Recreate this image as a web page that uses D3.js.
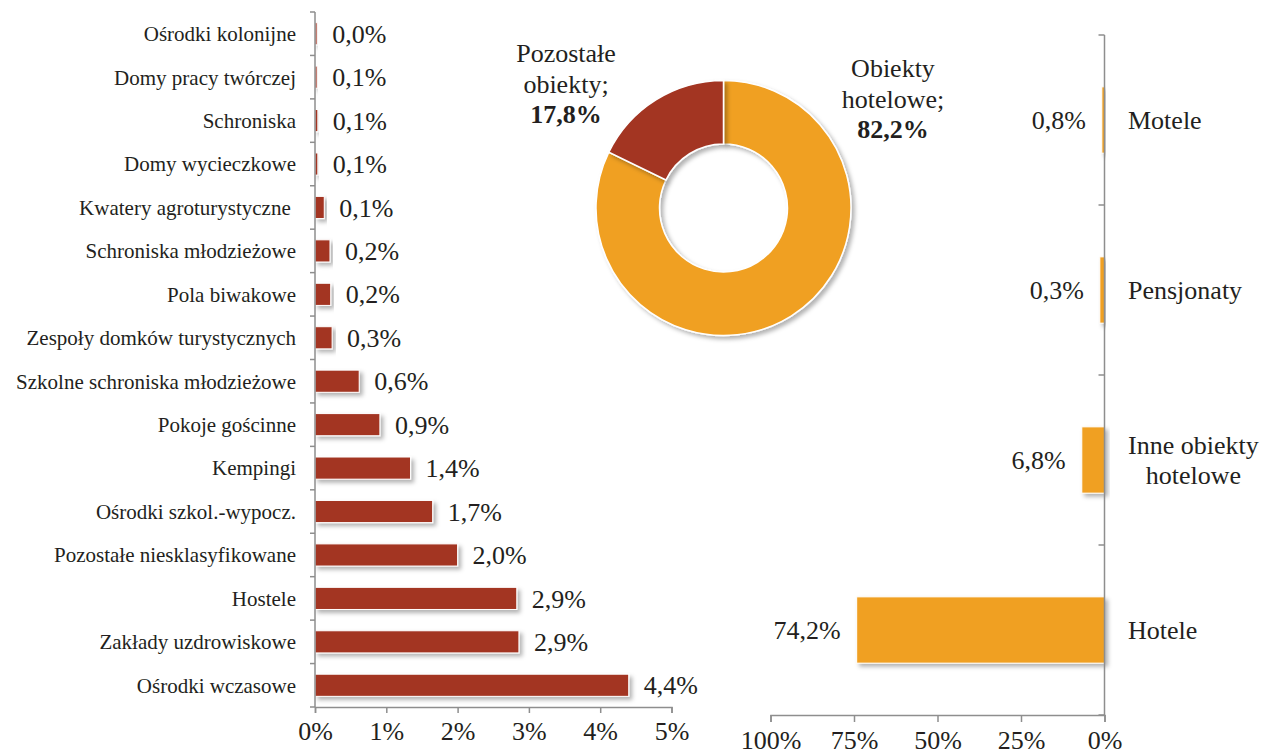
<!DOCTYPE html>
<html>
<head>
<meta charset="utf-8">
<script src="https://cdn.jsdelivr.net/npm/d3@7"></script>
<style>
  body { margin: 0; background: #fff; }
  svg { display: block; }
</style>
</head>
<body>
<div id="chart"></div>
<script>
// Left chart: other accommodation types (share of all objects, %)
var otherCategories = ['Ośrodki kolonijne', 'Domy pracy twórczej', 'Schroniska', 'Domy wycieczkowe',
    'Kwatery agroturystyczne ', 'Schroniska młodzieżowe', 'Pola biwakowe', 'Zespoły domków turystycznych',
    'Szkolne schroniska młodzieżowe', 'Pokoje gościnne', 'Kempingi', 'Ośrodki szkol.-wypocz.',
    'Pozostałe niesklasyfikowane', 'Hostele', 'Zakłady uzdrowiskowe', 'Ośrodki wczasowe'];
var otherValues = [0.03, 0.03, 0.04, 0.04, 0.13, 0.21, 0.22, 0.24, 0.62, 0.91, 1.34, 1.65, 2.0, 2.83, 2.86, 4.4];
var otherLabels = ['0,0%', '0,1%', '0,1%', '0,1%', '0,1%', '0,2%', '0,2%', '0,3%', '0,6%', '0,9%',
    '1,4%', '1,7%', '2,0%', '2,9%', '2,9%', '4,4%'];
var otherTicks = [0, 1, 2, 3, 4, 5];

// Donut: hotel vs other objects
var donutNames = [['Obiekty', 'hotelowe;'], ['Pozostałe', 'obiekty;']];
var donutValues = [82.2, 17.8];
var donutLabels = ['82,2%', '17,8%'];

// Right chart: hotel-type objects
var hotelCategories = ['Motele', 'Pensjonaty', 'Inne obiekty\nhotelowe', 'Hotele'];
var hotelValues = [0.8, 1.4, 6.8, 74.2];
var hotelLabels = ['0,8%', '0,3%', '6,8%', '74,2%'];
var hotelTicks = [100, 75, 50, 25, 0];

var W = 1263, H = 756;
var red = '#a33624', orange = '#f0a023', axisColor = '#8e8e8e', ink = '#231f20';
var FONT = 'Liberation Serif';

var svg = d3.select('#chart').append('svg')
    .attr('width', W).attr('height', H);

var defs = svg.append('defs');
var shadow = defs.append('filter').attr('id', 'shadow')
    .attr('x', '-20%').attr('y', '-30%').attr('width', '140%').attr('height', '180%');
shadow.append('feDropShadow')
    .attr('dx', 3).attr('dy', 3).attr('stdDeviation', 2)
    .attr('flood-color', '#000').attr('flood-opacity', 0.3);

// ---------- Left bar chart ----------
var xL = d3.scaleLinear().domain([0, 5]).range([315, 671.5]);
var yL = d3.scaleBand().domain(otherCategories).range([12, 707])
    .paddingInner(0.49).paddingOuter(0.245);

var left = svg.append('g');

left.selectAll('rect.other')
    .data(otherValues)
    .enter().append('rect')
    .attr('class', 'other')
    .attr('x', xL(0))
    .attr('y', function(d, i) { return yL(otherCategories[i]); })
    .attr('width', function(d) { return xL(d) - xL(0); })
    .attr('height', yL.bandwidth())
    .attr('fill', red)
    .attr('stroke', '#fff')
    .attr('stroke-width', 1)
    .attr('filter', 'url(#shadow)');

left.selectAll('text.val')
    .data(otherLabels)
    .enter().append('text')
    .attr('class', 'val')
    .attr('x', function(d, i) { return xL(otherValues[i]) + 15; })
    .attr('y', function(d, i) { return yL(otherCategories[i]) + yL.bandwidth() / 2; })
    .attr('dy', '0.35em')
    .style('font-size', '26px')
    .text(function(d) { return d; });

// category labels
left.selectAll('text.cat')
    .data(otherCategories)
    .enter().append('text')
    .attr('class', 'cat')
    .attr('x', 296)
    .attr('y', function(d) { return yL(d) + yL.bandwidth() / 2; })
    .attr('dy', '0.35em')
    .attr('text-anchor', 'end')
    .style('font-size', '21px')
    .style('white-space', 'pre')
    .text(function(d) { return d; });

// vertical axis line + boundary ticks
var leftBounds = otherCategories.map(function(d) { return yL(d) - yL.step() * yL.paddingInner() / 2; });
leftBounds.push(yL.range()[1]);
left.append('line')
    .attr('x1', xL(0)).attr('x2', xL(0))
    .attr('y1', leftBounds[0]).attr('y2', yL.range()[1])
    .attr('stroke', axisColor).attr('stroke-width', 1.5);
left.selectAll('line.btick')
    .data(leftBounds)
    .enter().append('line')
    .attr('class', 'btick')
    .attr('x1', xL(0) - 5).attr('x2', xL(0))
    .attr('y1', function(d) { return d; }).attr('y2', function(d) { return d; })
    .attr('stroke', axisColor).attr('stroke-width', 1.5);

// bottom axis
var xAxisL = left.append('g')
    .attr('transform', 'translate(0,' + yL.range()[1] + ')')
    .call(d3.axisBottom(xL).tickValues(otherTicks).tickSize(6).tickPadding(9)
        .tickFormat(function(d) { return d + '%'; }));
xAxisL.attr('font-family', null);
xAxisL.select('.domain').attr('stroke', axisColor).attr('stroke-width', 1.5);
xAxisL.selectAll('.tick line').attr('stroke', axisColor).attr('stroke-width', 1.5);
xAxisL.selectAll('.tick text')
    .style('font-size', '26px');

// ---------- Donut ----------
var cx = 723.5, cy = 208, rOuter = 127.5, rInner = 64;
var pie = d3.pie().sort(null)(donutValues);
var arc = d3.arc().innerRadius(rInner).outerRadius(rOuter);
var donut = svg.append('g').attr('transform', 'translate(' + cx + ',' + cy + ')');
donut.selectAll('path')
    .data(pie)
    .enter().append('path')
    .attr('d', arc)
    .attr('fill', function(d, i) { return i === 0 ? orange : red; })
    .attr('stroke', '#fff')
    .attr('stroke-width', 1.5)
    .attr('filter', 'url(#shadow)');

var donutPos = [{ x: 893, y: 77 }, { x: 566, y: 62 }];
donutNames.forEach(function(lines, i) {
    var t = svg.append('text')
        .attr('x', donutPos[i].x).attr('y', donutPos[i].y)
        .attr('text-anchor', 'middle')
        .style('font-size', '26px');
    lines.forEach(function(line, j) {
        t.append('tspan').attr('x', donutPos[i].x).attr('dy', j === 0 ? 0 : 30.5).text(line);
    });
    t.append('tspan').attr('x', donutPos[i].x).attr('dy', 30.5)
        .style('font-weight', 'bold').text(donutLabels[i]);
});

// ---------- Right bar chart ----------
var xR = d3.scaleLinear().domain([0, 100]).range([1104.5, 770.5]);
var yR = d3.scaleBand().domain(hotelCategories).range([35, 715])
    .paddingInner(0.61).paddingOuter(0.305);

var right = svg.append('g');

right.selectAll('rect.hotel')
    .data(hotelValues)
    .enter().append('rect')
    .attr('class', 'hotel')
    .attr('x', function(d) { return xR(d); })
    .attr('y', function(d, i) { return yR(hotelCategories[i]); })
    .attr('width', function(d) { return xR(0) - xR(d); })
    .attr('height', yR.bandwidth())
    .attr('fill', orange)
    .attr('stroke', '#fff')
    .attr('stroke-width', 1)
    .attr('filter', 'url(#shadow)');

right.selectAll('text.val')
    .data(hotelLabels)
    .enter().append('text')
    .attr('class', 'val')
    .attr('x', function(d, i) { return xR(hotelValues[i]) - 16; })
    .attr('y', function(d, i) { return yR(hotelCategories[i]) + yR.bandwidth() / 2; })
    .attr('dy', '0.35em')
    .attr('text-anchor', 'end')
    .style('font-size', '26px')
    .text(function(d) { return d; });

// make sure every text so far uses the serif face before measuring
svg.selectAll('text').style('font-family', FONT);

// category labels (right side, wrapped labels centred)
hotelCategories.forEach(function(cat) {
    var lines = cat.split('\n');
    var mid = yR(cat) + yR.bandwidth() / 2;
    var t = right.append('text')
        .attr('y', mid - (lines.length - 1) * 15)
        .attr('dy', '0.35em')
        .style('font-family', FONT)
        .style('font-size', '26px');
    lines.forEach(function(line, j) {
        t.append('tspan').attr('dy', j === 0 ? null : 30).text(line);
    });
    if (lines.length > 1) {
        var maxW = 0;
        t.selectAll('tspan').each(function() {
            maxW = Math.max(maxW, this.getComputedTextLength());
        });
        t.attr('text-anchor', 'middle');
        t.selectAll('tspan').attr('x', 1128 + maxW / 2);
    } else {
        t.selectAll('tspan').attr('x', 1128);
    }
});

var rightBounds = hotelCategories.map(function(d) { return yR(d) - yR.step() * yR.paddingInner() / 2; });
rightBounds.push(yR.range()[1]);
right.append('line')
    .attr('x1', xR(0)).attr('x2', xR(0))
    .attr('y1', rightBounds[0]).attr('y2', yR.range()[1])
    .attr('stroke', axisColor).attr('stroke-width', 1.5);
right.selectAll('line.btick')
    .data(rightBounds)
    .enter().append('line')
    .attr('class', 'btick')
    .attr('x1', xR(0) - 6).attr('x2', xR(0))
    .attr('y1', function(d) { return d; }).attr('y2', function(d) { return d; })
    .attr('stroke', axisColor).attr('stroke-width', 1.5);

var xAxisR = right.append('g')
    .attr('transform', 'translate(0,' + yR.range()[1] + ')')
    .call(d3.axisBottom(xR).tickValues(hotelTicks).tickSize(7).tickPadding(9)
        .tickFormat(function(d) { return d + '%'; }));
xAxisR.attr('font-family', null);
xAxisR.select('.domain').attr('stroke', axisColor).attr('stroke-width', 1.5);
xAxisR.selectAll('.tick line').attr('stroke', axisColor).attr('stroke-width', 1.5);
xAxisR.selectAll('.tick text')
    .style('font-size', '26px');

svg.selectAll('text')
    .style('font-family', FONT)
    .attr('fill', ink);
</script>
</body>
</html>
